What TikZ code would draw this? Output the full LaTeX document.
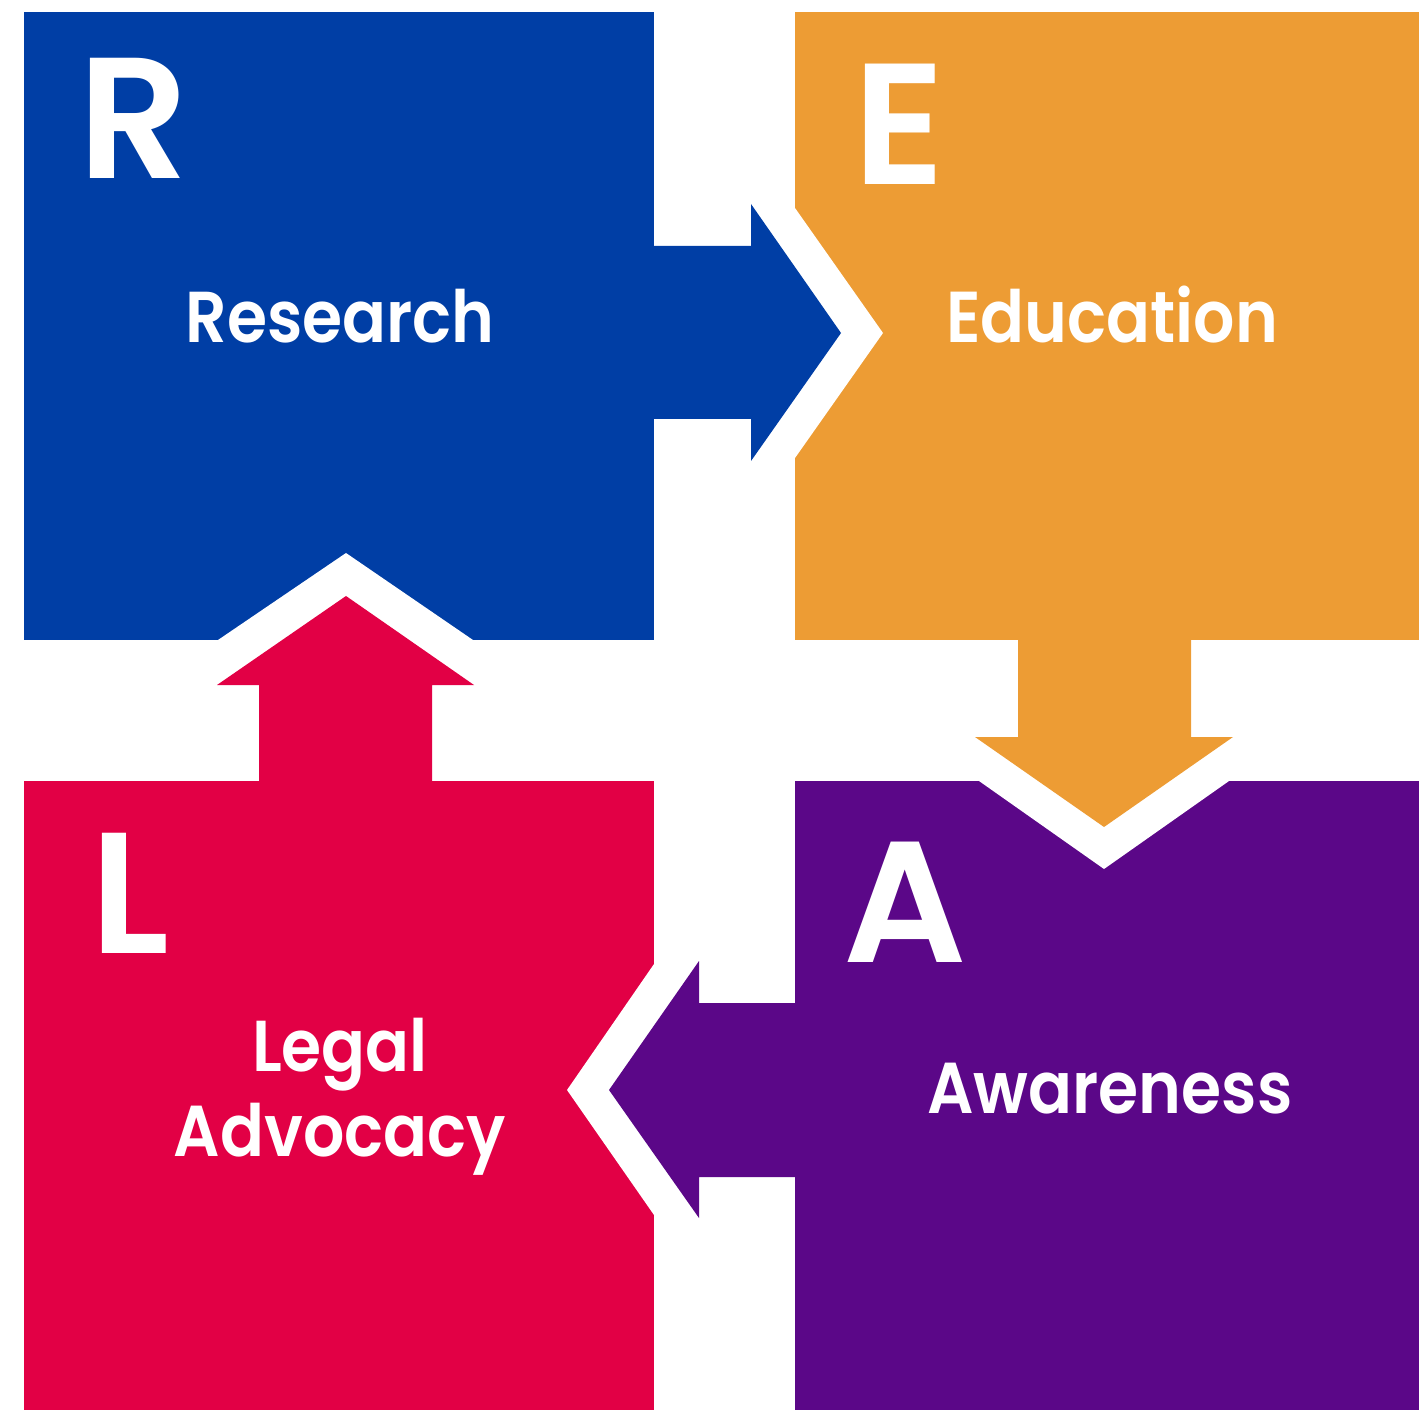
\documentclass[tikz,border=0pt]{standalone}
\usepackage{fontspec}
\setmainfont{Poppins}[BoldFont={Poppins SemiBold}]
\newfontfamily\labelfont{Poppins SemiBold}[FakeStretch=0.9]
\usepackage{tikz}

\definecolor{rblue}{RGB}{0,62,165}
\definecolor{eorange}{RGB}{237,156,52}
\definecolor{lred}{RGB}{226,0,69}
\definecolor{apurple}{RGB}{91,7,136}

\tikzset{
  bigletter/.style={text=white,inner sep=0pt,anchor=base west,
    font=\fontsize{49}{49}\selectfont\bfseries},
  word/.style={text=white,inner sep=0pt,anchor=base,
    font=\labelfont\fontsize{20.5}{25}\selectfont}
}

\begin{document}
\begin{tikzpicture}[x=0.01cm,y=-0.01cm]
\useasboundingbox (0,0) rectangle (1419,1410);

% the four blocks
\foreach \xa/\ya/\xb/\yb/\c in {24/12/654/640/rblue, 795/12/1419/640/eorange,
                                24/781/654/1410/lred, 795/781/1419/1410/apurple}
	{
	\fill[\c] (\xa,\ya) rectangle (\xb,\yb);
	}

% white notches round the arrow heads
\fill[white] (795,208) -- (883,333) -- (795,458) -- cycle;
\fill[white] (979,781) -- (1104,869) -- (1229,781) -- cycle;
\fill[white] (218,640) -- (346,553) -- (473,640) -- cycle;
\fill[white] (654,964) -- (567,1090) -- (654,1215) -- cycle;

% arrows
\fill[rblue] (650,246) -- (751,246) -- (751,204) -- (841,333)
	-- (751,461) -- (751,419) -- (650,419) -- cycle;
\fill[eorange] (1018,636) -- (1018,737) -- (975,737) -- (1104,827)
	-- (1233,737) -- (1191,737) -- (1191,636) -- cycle;
\fill[lred] (259,785) -- (259,685) -- (217,685) -- (346,596)
	-- (474,685) -- (432,685) -- (432,785) -- cycle;
\fill[apurple] (799,1003) -- (699,1003) -- (699,961) -- (609,1090)
	-- (699,1218) -- (699,1177) -- (799,1177) -- cycle;

% letters
\node[bigletter] (letterR) at (78,179) {R};
\node[bigletter] (letterE) at (853,185) {E};
\node[bigletter] (letterL) at (90,953) {L};
\node[bigletter] (letterA) at (843,962) {A};

% labels
\node[word] (research) at (340,343) {Research};
\node[word] (education) at (1112,343) {Education};
\node[word] (legal) at (340,1071) {Legal};
\node[word] (advocacy) at (340,1156) {Advocacy};
\node[word] (awareness) at (1110,1113) {Awareness};
\end{tikzpicture}
\end{document}
